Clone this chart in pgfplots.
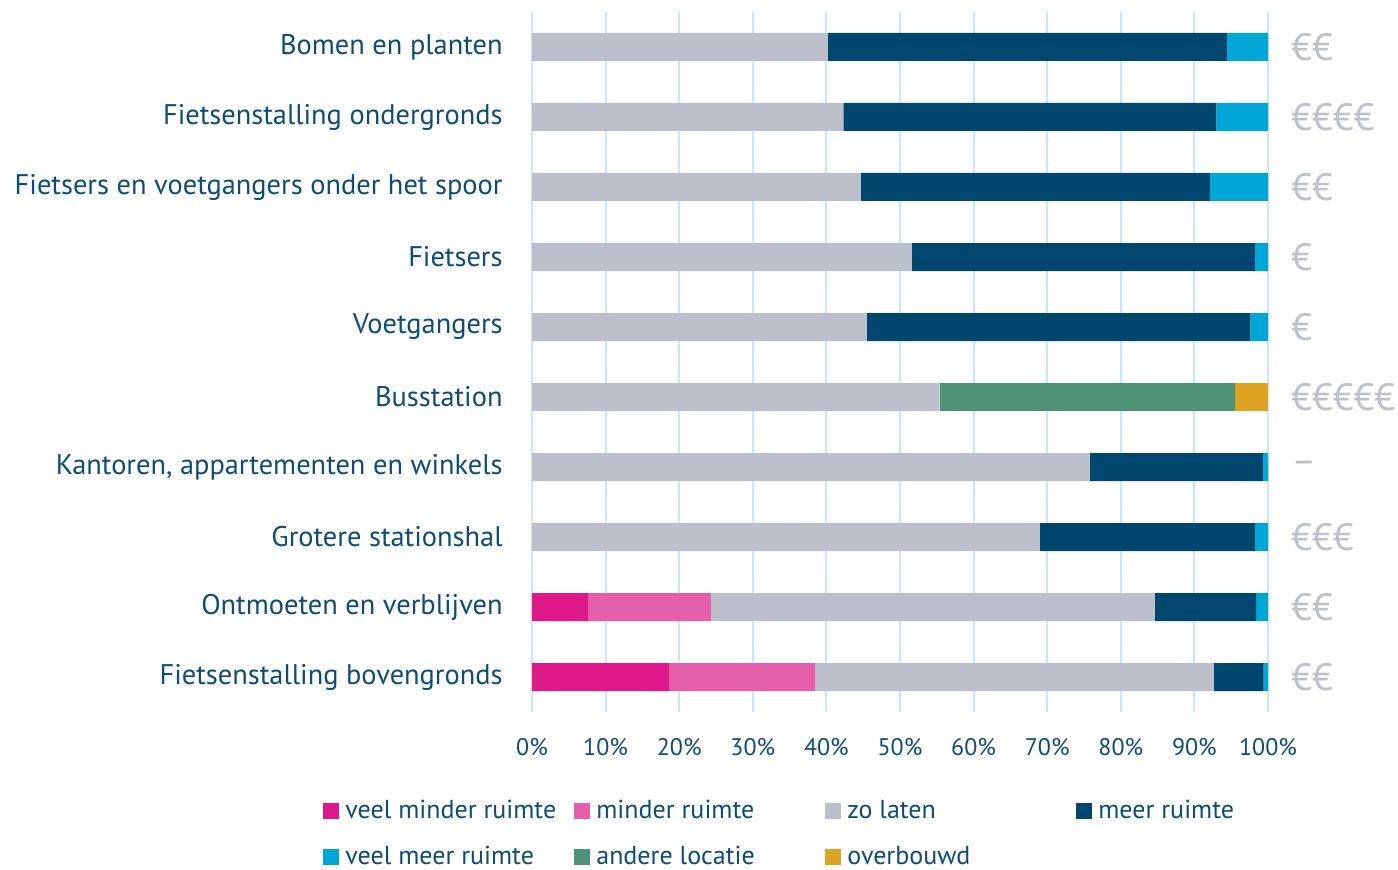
\documentclass[border=0pt]{standalone}
\usepackage{pgfplots}
\pgfplotsset{compat=1.18}
\usepackage{fontspec}
\setmainfont{PT Sans}
\definecolor{txt}{HTML}{0E4C76}
\definecolor{grd}{HTML}{C9E7F8}
\definecolor{eur}{HTML}{BCC1CC}
\definecolor{cVMR}{HTML}{E0198A}
\definecolor{cMR}{HTML}{E65FAB}
\definecolor{cZL}{HTML}{BBC0CB}
\definecolor{cMeer}{HTML}{00466F}
\definecolor{cVMeer}{HTML}{00A6D6}
\definecolor{cAL}{HTML}{4E9376}
\definecolor{cOB}{HTML}{DFA323}
\begin{document}
\begin{tikzpicture}
\useasboundingbox (0,0) rectangle (699pt,434.5pt);
\begin{axis}[
  at={(266pt,78.5pt)}, anchor=south west,
  scale only axis, width=368pt, height=350pt,
  xbar stacked, bar width=14pt,
  xmin=0, xmax=100, ymin=-0.5, ymax=9.5, y dir=reverse,
  ytick={0,...,9},
  yticklabels={Bomen en planten, Fietsenstalling ondergronds, Fietsers en voetgangers onder het spoor, Fietsers, Voetgangers, Busstation, {Kantoren, appartementen en winkels}, Grotere stationshal, Ontmoeten en verblijven, Fietsenstalling bovengronds},
  xtick={0,10,...,100},
  xticklabels={0\%,10\%,20\%,30\%,40\%,50\%,60\%,70\%,80\%,90\%,100\%},
  major tick length=0pt,
  axis line style={draw=none},
  xmajorgrids, grid style={grd, line width=1pt},
  yticklabel style={font=\fontsize{14.2}{17}\selectfont, text=txt, inner sep=0pt, xshift=-14.5pt},
  xticklabel style={font=\fontsize{12}{14}\selectfont, text=txt, inner sep=0pt, yshift=-13pt},
  legend columns=4,
  legend style={draw=none, at={(axis description cs:-0.284,-0.1257)}, anchor=north west,
    font=\fontsize{13}{15}\selectfont, text=txt, inner sep=0pt,
    nodes={inner sep=0pt, anchor=west},
    /tikz/every odd column/.append style={column sep=3pt},
    /tikz/every even column/.append style={column sep=0pt},
    row sep=12pt},
  legend image code/.code={\fill[#1] (0pt,-4pt) rectangle (8pt,4pt);},
  every axis plot/.append style={draw=none},
]
\addplot[fill=cVMR] coordinates {(0,0) (0,1) (0,2) (0,3) (0,4) (0,5) (0,6) (0,7) (7.7,8) (18.7,9)};
\addplot[fill=cMR] coordinates {(0,0) (0,1) (0,2) (0,3) (0,4) (0,5) (0,6) (0,7) (16.6,8) (19.8,9)};
\addplot[fill=cZL] coordinates {(40.2,0) (42.3,1) (44.7,2) (51.6,3) (45.5,4) (55.4,5) (75.8,6) (69.0,7) (60.3,8) (54.1,9)};
\addplot[fill=cMeer] coordinates {(54.2,0) (50.7,1) (47.4,2) (46.6,3) (52.1,4) (0,5) (23.5,6) (29.2,7) (13.8,8) (6.8,9)};
\addplot[fill=cVMeer] coordinates {(5.6,0) (7.0,1) (7.9,2) (1.8,3) (2.4,4) (0,5) (0.7,6) (1.8,7) (1.6,8) (0.6,9)};
\addplot[fill=cAL] coordinates {(0,0) (0,1) (0,2) (0,3) (0,4) (40.1,5) (0,6) (0,7) (0,8) (0,9)};
\addplot[fill=cOB] coordinates {(0,0) (0,1) (0,2) (0,3) (0,4) (4.5,5) (0,6) (0,7) (0,8) (0,9)};
\legend{\makebox[114.5pt][l]{veel minder ruimte},\makebox[114.5pt][l]{minder ruimte},\makebox[114.5pt][l]{zo laten},\makebox[114.5pt][l]{meer ruimte},\makebox[114.5pt][l]{veel meer ruimte},\makebox[114.5pt][l]{andere locatie},\makebox[114.5pt][l]{overbouwd}}
\end{axis}
\begin{axis}[
  at={(266pt,78.5pt)}, anchor=south west,
  scale only axis, width=368pt, height=350pt,
  xmin=0, xmax=100, ymin=-0.5, ymax=9.5, y dir=reverse,
  xtick=\empty, ytick={0,...,9},
  yticklabel pos=right,
  yticklabels={€€,€€€€,€€,€,€,€€€€€,–,€€€,€€,€€},
  major tick length=0pt,
  axis line style={draw=none},
  yticklabel style={font=\fontsize{19}{22}\selectfont, text=eur, inner sep=0pt, xshift=11.5pt},
]
\end{axis}
\end{tikzpicture}
\end{document}
